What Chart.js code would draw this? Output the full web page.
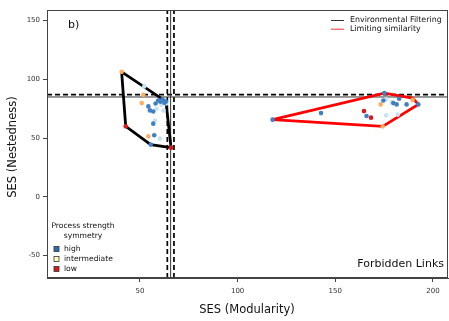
<!DOCTYPE html>
<html>
<head>
<meta charset="utf-8">
<script src="https://cdn.jsdelivr.net/npm/chart.js@4.4.1/dist/chart.umd.min.js"></script>
<style>
  html, body { margin: 0; padding: 0; background: #fff; }
  #wrap { width: 449px; height: 321px; }
</style>
</head>
<body>
<div id="wrap"><canvas id="c" width="449" height="321"></canvas></div>
<script>
// Observed networks: SES of modularity (x) and nestedness (y), one class per symmetry level
const highX   = [63.3, 55.5, 54.3, 55.1, 56.8, 56.8, 57.3, 59.3, 60.5, 61.5, 62.5, 58.0, 117.9, 142.7, 166.0, 175.1, 192.5, 174.6, 179.7, 181.4, 186.5, 182.7];
const highY   = [81.2, 44.5, 77.0, 73.6, 72.7, 62.3, 52.4, 82.0, 81.0, 83.0, 80.0, 79.5, 65.7, 71.3, 68.8, 88.3, 78.7, 82.0, 79.8, 78.7, 78.7, 83.5];
const paleX   = [52.2, 58.5, 62.0, 57.7, 60.2, 61.0, 63.5, 176.0, 182.0, 179.0, 176.0];
const paleY   = [94.0, 75.0, 73.5, 65.0, 49.6, 78.5, 79.5, 69.4, 70.0, 80.5, 83.0];
const midX    = [40.6, 51.7, 50.9, 54.3, 174.3, 189.6, 173.2];
const midY    = [106.4, 86.9, 79.8, 51.5, 60.0, 82.5, 78.7];
const lowX    = [65.9, 42.7, 164.7, 168.3];
const lowY    = [41.9, 60.0, 73.0, 67.4];

// Convex hulls of the two process scenarios (closed polygons)
const filteringHullX = [40.6, 63.3, 65.9, 55.5, 42.7, 40.6];
const filteringHullY = [106.4, 81.2, 41.9, 44.5, 60.0, 106.4];
const similarityHullX = [117.9, 175.1, 189.6, 192.5, 174.3, 117.9];
const similarityHullY = [65.7, 88.3, 84.0, 78.7, 60.0, 65.7];

// Null-model reference: mean and confidence bounds
const modularityMean = 65.7;
const modularityCI = [64.0, 67.4];
const nestednessMean = 85.0;
const nestednessCI = [87.0];

const xTicks = [50, 100, 150, 200];
const yTicks = [-50, 0, 50, 100, 150];
const xRange = [2.4, 207.7];
const yRange = [-69, 159];

const legendProcess = ['Environmental Filtering', 'Limiting similarity'];
const legendSymmetry = ['high', 'intermediate', 'low'];

const toPts = (xs, ys) => xs.map((x, i) => ({ x, y: ys[i] }));

const FONT = '"DejaVu Sans", sans-serif';
const COL_HIGH = '#3f7fc2';
const COL_PALE = '#c6e4f0';
const COL_MID = '#fdae61';
const COL_LOW = '#d7191c';

function pointSet(label, xs, ys, color) {
  return { type: 'scatter', label, data: toPts(xs, ys), backgroundColor: color, borderColor: color,
           borderWidth: 0, pointRadius: 2.3, order: 0 };
}
function lineSet(label, pts, color, width, dash, order) {
  return { type: 'line', label, data: pts, borderColor: color, backgroundColor: color,
           borderWidth: width, borderDash: dash || [], pointRadius: 0, fill: false,
           tension: 0, order: order };
}

const datasets = [
  pointSet('high', highX, highY, COL_HIGH),
  pointSet('pale', paleX, paleY, COL_PALE),
  pointSet('intermediate', midX, midY, COL_MID),
  pointSet('low', lowX, lowY, COL_LOW),
  lineSet('Environmental Filtering', toPts(filteringHullX, filteringHullY), '#000', 2.8, null, 1),
  lineSet('Limiting similarity', toPts(similarityHullX, similarityHullY), '#ff0000', 2.8, null, 1),
  lineSet('mod mean', [{x: modularityMean, y: yRange[0]}, {x: modularityMean, y: yRange[1]}], '#333', 1, null, 2),
  lineSet('nest mean', [{x: xRange[0], y: nestednessMean}, {x: xRange[1], y: nestednessMean}], '#333', 1, null, 2),
];
modularityCI.forEach(v => datasets.push(
  lineSet('mod ci', [{x: v, y: yRange[0]}, {x: v, y: yRange[1]}], '#000', 1.7, [5, 3], 2)));
nestednessCI.forEach(v => datasets.push(
  lineSet('nest ci', [{x: xRange[0], y: v}, {x: xRange[1], y: v}], '#000', 1.7, [5, 3], 2)));

const decorations = {
  id: 'decorations',
  afterDraw(chart) {
    const ctx = chart.ctx;
    const a = chart.chartArea;
    ctx.save();
    // full frame
    ctx.strokeStyle = '#444';
    ctx.lineWidth = 1;
    ctx.strokeRect(a.left + 0.5, a.top + 0.5, a.right - a.left - 1, a.bottom - a.top - 1);

    ctx.fillStyle = '#111';
    ctx.textBaseline = 'middle';
    ctx.font = '11px ' + FONT;
    ctx.textAlign = 'left';
    ctx.fillText('b)', 68, 25);
    ctx.textAlign = 'right';
    ctx.fillText('Forbidden Links', 444, 264);

    // axis titles
    ctx.font = '11.5px ' + FONT;
    ctx.textAlign = 'center';
    ctx.fillText('SES (Modularity)', 247, 310);
    ctx.save();
    ctx.translate(13, 147);
    ctx.rotate(-Math.PI / 2);
    ctx.fillText('SES (Nestedness)', 0, 0);
    ctx.restore();

    // process legend
    ctx.font = '7.9px ' + FONT;
    ctx.textAlign = 'left';
    const procCols = ['#333', '#ff3333'];
    legendProcess.forEach((t, i) => {
      const y = 20 + i * 8.7;
      ctx.strokeStyle = procCols[i];
      ctx.lineWidth = 1;
      ctx.beginPath(); ctx.moveTo(331, y + 0.5); ctx.lineTo(344, y + 0.5); ctx.stroke();
      ctx.fillStyle = '#111';
      ctx.fillText(t, 350, y);
    });

    // symmetry legend
    ctx.font = '7.6px ' + FONT;
    ctx.textAlign = 'center';
    ctx.fillText('Process strength', 83, 226);
    ctx.fillText('symmetry', 83, 236.5);
    ctx.textAlign = 'left';
    const symCols = ['#2c6bb4', '#ffffbf', '#d7191c'];
    legendSymmetry.forEach((t, i) => {
      const y = 249 + i * 10;
      ctx.fillStyle = symCols[i];
      ctx.fillRect(54, y - 2.5, 5, 5);
      ctx.strokeStyle = '#333';
      ctx.lineWidth = 0.8;
      ctx.strokeRect(54, y - 2.5, 5, 5);
      ctx.fillStyle = '#111';
      ctx.fillText(t, 64, y);
    });
    ctx.restore();
  }
};

new Chart(document.getElementById('c'), {
  type: 'scatter',
  data: { datasets },
  options: {
    responsive: false,
    animation: false,
    layout: { autoPadding: false, padding: { top: 10, right: 1, left: 0, bottom: 0 } },
    plugins: { legend: { display: false }, tooltip: { enabled: false } },
    scales: {
      x: {
        type: 'linear', min: xRange[0], max: xRange[1],
        afterBuildTicks: s => { s.ticks = xTicks.map(v => ({ value: v })); },
        afterFit: s => { s.height = 43; s.paddingLeft = 0; s.paddingRight = 0; },
        grid: { display: true, drawOnChartArea: false, drawTicks: true, tickLength: 4, color: '#444' },
        border: { display: true, color: '#444' },
        ticks: { font: { family: FONT, size: 7 }, color: '#333', padding: 5, maxRotation: 0 }
      },
      y: {
        type: 'linear', min: yRange[0], max: yRange[1],
        afterBuildTicks: s => { s.ticks = yTicks.map(v => ({ value: v })); },
        afterFit: s => { s.width = 47; s.paddingTop = 0; s.paddingBottom = 0; },
        grid: { display: true, drawOnChartArea: false, drawTicks: true, tickLength: 4, color: '#444' },
        border: { display: true, color: '#444' },
        ticks: { font: { family: FONT, size: 7 }, color: '#333', padding: 3 }
      }
    }
  },
  plugins: [decorations]
});
</script>
</body>
</html>
